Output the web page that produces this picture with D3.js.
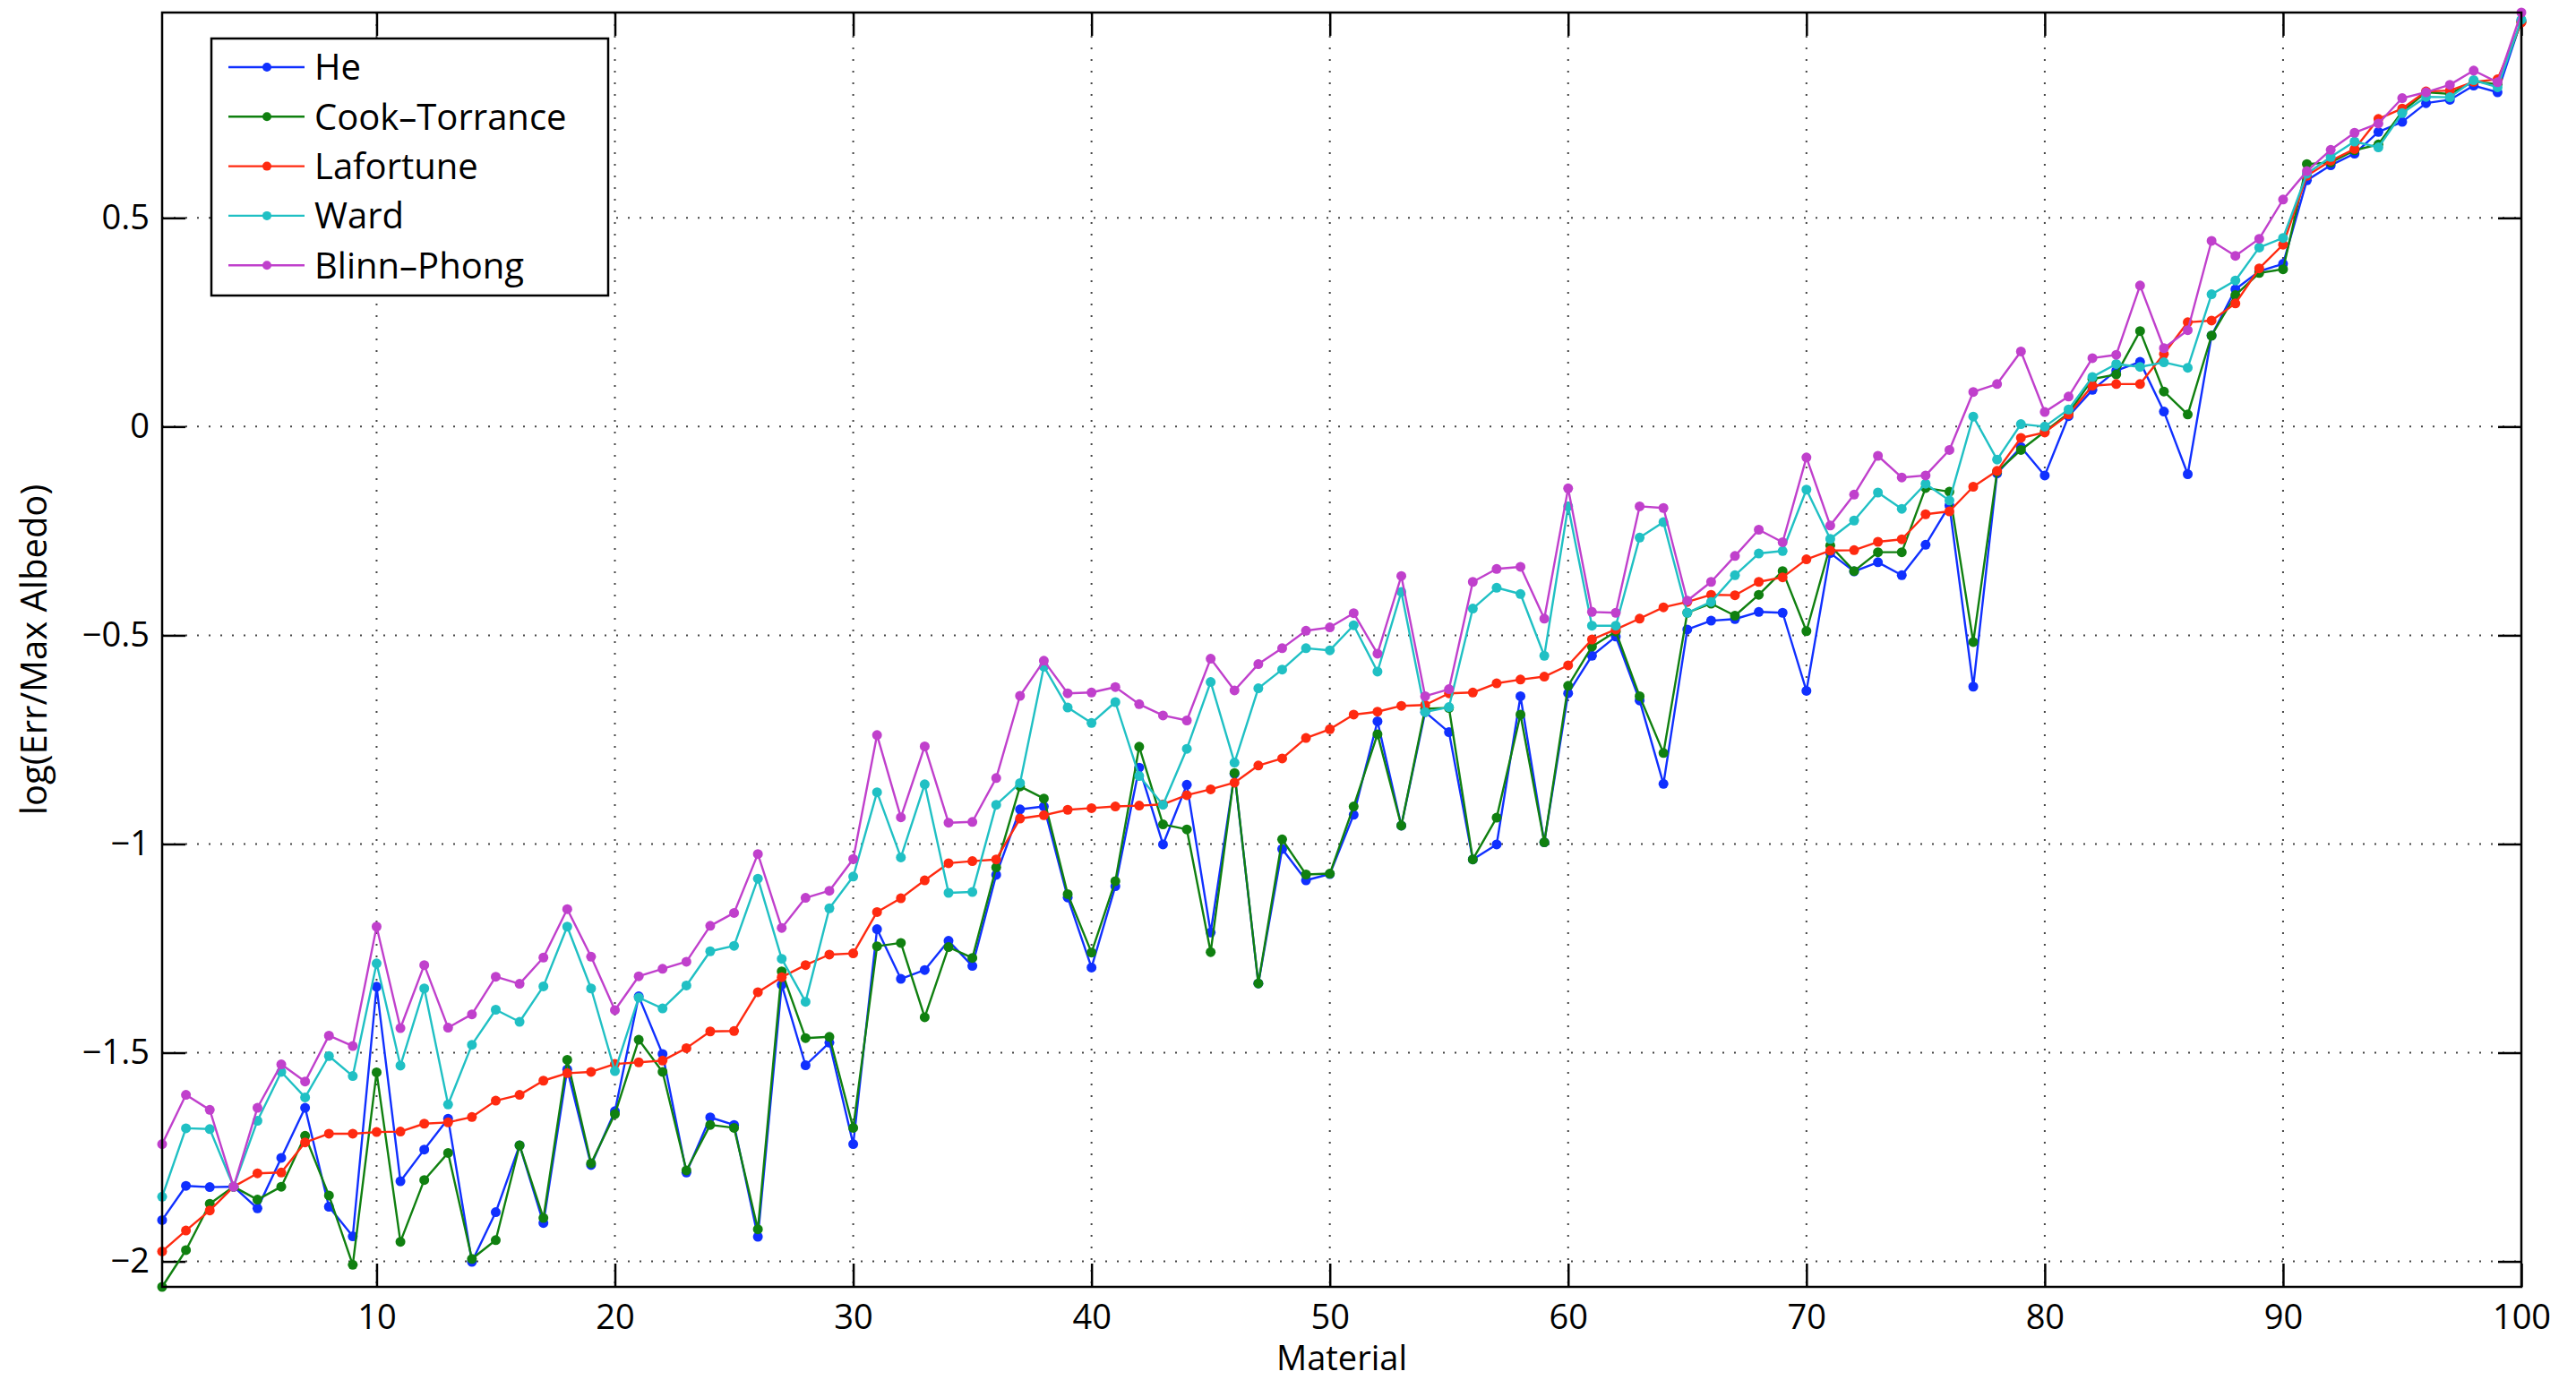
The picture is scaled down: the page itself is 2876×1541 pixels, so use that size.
<!DOCTYPE html>
<html lang="en">
<head>
  <meta charset="UTF-8" />
  <title>log(Err/Max Albedo) per material</title>
  <style>
    body { margin: 0; background: #fff; }
    svg { display: block; font-family: "Open Sans", sans-serif; }
  </style>
</head>
<body>
  <svg id="chart"></svg>

  <script src="https://d3js.org/d3.v7.min.js"></script>
  <script>
    // values, material 1..100
    const heVals = [
      -1.901, -1.819, -1.822, -1.821, -1.873, -1.752, -1.632, -1.869, -1.940, -1.342,
      -1.808, -1.732, -1.658, -2.001, -1.882, -1.722, -1.908, -1.540, -1.769, -1.640,
      -1.365, -1.503, -1.787, -1.655, -1.673, -1.941, -1.337, -1.530, -1.476, -1.719,
      -1.204, -1.323, -1.302, -1.232, -1.292, -1.074, -0.917, -0.910, -1.128, -1.296,
      -1.101, -0.817, -1.001, -0.858, -1.212, -0.832, -1.334, -1.012, -1.087, -1.072,
      -0.930, -0.706, -0.956, -0.684, -0.732, -1.037, -1.001, -0.646, -0.996, -0.639,
      -0.549, -0.503, -0.656, -0.856, -0.486, -0.465, -0.461, -0.444, -0.446, -0.633,
      -0.303, -0.347, -0.325, -0.356, -0.283, -0.189, -0.623, -0.112, -0.049, -0.117,
      0.025, 0.088, 0.134, 0.155, 0.036, -0.114, 0.218, 0.329, 0.372, 0.390,
      0.590, 0.626, 0.654, 0.706, 0.730, 0.775, 0.783, 0.817, 0.801, 0.973
    ];
    const cookVals = [
      -2.061, -1.973, -1.862, -1.821, -1.852, -1.821, -1.699, -1.842, -2.008, -1.547,
      -1.953, -1.805, -1.740, -1.994, -1.949, -1.722, -1.896, -1.517, -1.765, -1.647,
      -1.469, -1.546, -1.782, -1.673, -1.680, -1.923, -1.305, -1.465, -1.462, -1.680,
      -1.245, -1.237, -1.415, -1.247, -1.273, -1.056, -0.862, -0.891, -1.120, -1.260,
      -1.089, -0.767, -0.953, -0.965, -1.259, -0.830, -1.334, -0.989, -1.073, -1.071,
      -0.910, -0.737, -0.956, -0.676, -0.674, -1.037, -0.937, -0.690, -0.996, -0.621,
      -0.527, -0.491, -0.646, -0.782, -0.446, -0.424, -0.453, -0.403, -0.346, -0.490,
      -0.285, -0.346, -0.301, -0.301, -0.147, -0.156, -0.516, -0.108, -0.056, -0.012,
      0.032, 0.114, 0.125, 0.229, 0.084, 0.029, 0.218, 0.315, 0.368, 0.377,
      0.629, 0.633, 0.662, 0.676, 0.755, 0.801, 0.797, 0.827, 0.820, 0.970
    ];
    const lafortuneVals = [
      -1.976, -1.926, -1.878, -1.821, -1.789, -1.787, -1.715, -1.694, -1.694, -1.690,
      -1.689, -1.670, -1.667, -1.654, -1.615, -1.601, -1.567, -1.549, -1.546, -1.527,
      -1.523, -1.519, -1.489, -1.449, -1.448, -1.355, -1.319, -1.290, -1.265, -1.262,
      -1.163, -1.130, -1.087, -1.046, -1.041, -1.037, -0.939, -0.931, -0.918, -0.914,
      -0.910, -0.908, -0.905, -0.883, -0.869, -0.853, -0.812, -0.795, -0.746, -0.725,
      -0.690, -0.683, -0.669, -0.667, -0.639, -0.637, -0.615, -0.606, -0.599, -0.572,
      -0.510, -0.486, -0.460, -0.433, -0.420, -0.403, -0.404, -0.372, -0.361, -0.318,
      -0.297, -0.296, -0.276, -0.270, -0.210, -0.203, -0.144, -0.106, -0.027, -0.014,
      0.029, 0.098, 0.102, 0.102, 0.174, 0.250, 0.254, 0.295, 0.379, 0.436,
      0.601, 0.637, 0.665, 0.737, 0.762, 0.803, 0.805, 0.826, 0.832, 0.968
    ];
    const wardVals = [
      -1.845, -1.681, -1.683, -1.821, -1.663, -1.546, -1.607, -1.508, -1.556, -1.286,
      -1.531, -1.346, -1.624, -1.481, -1.397, -1.426, -1.341, -1.198, -1.346, -1.544,
      -1.368, -1.394, -1.339, -1.257, -1.244, -1.083, -1.275, -1.378, -1.154, -1.078,
      -0.876, -1.032, -0.857, -1.117, -1.115, -0.906, -0.854, -0.575, -0.673, -0.710,
      -0.660, -0.837, -0.906, -0.772, -0.612, -0.805, -0.627, -0.582, -0.531, -0.536,
      -0.476, -0.587, -0.396, -0.684, -0.672, -0.436, -0.386, -0.401, -0.549, -0.191,
      -0.477, -0.477, -0.266, -0.229, -0.446, -0.420, -0.356, -0.304, -0.298, -0.151,
      -0.269, -0.225, -0.158, -0.197, -0.137, -0.177, 0.024, -0.079, 0.006, 0.000,
      0.041, 0.119, 0.150, 0.143, 0.154, 0.141, 0.317, 0.350, 0.429, 0.452,
      0.606, 0.646, 0.683, 0.669, 0.751, 0.790, 0.789, 0.830, 0.813, 0.975
    ];
    const blinnVals = [
      -1.719, -1.601, -1.637, -1.821, -1.632, -1.528, -1.569, -1.459, -1.484, -1.198,
      -1.441, -1.290, -1.440, -1.408, -1.318, -1.335, -1.272, -1.156, -1.270, -1.398,
      -1.317, -1.299, -1.282, -1.196, -1.165, -1.024, -1.201, -1.129, -1.112, -1.036,
      -0.739, -0.936, -0.766, -0.949, -0.947, -0.842, -0.645, -0.561, -0.639, -0.637,
      -0.624, -0.665, -0.692, -0.704, -0.556, -0.632, -0.569, -0.531, -0.489, -0.481,
      -0.447, -0.544, -0.358, -0.646, -0.629, -0.372, -0.341, -0.336, -0.460, -0.148,
      -0.444, -0.446, -0.191, -0.195, -0.417, -0.372, -0.310, -0.247, -0.277, -0.074,
      -0.237, -0.163, -0.070, -0.122, -0.117, -0.056, 0.083, 0.102, 0.180, 0.035,
      0.072, 0.164, 0.172, 0.338, 0.188, 0.231, 0.445, 0.409, 0.450, 0.544,
      0.612, 0.663, 0.704, 0.726, 0.787, 0.801, 0.819, 0.853, 0.825, 0.992
    ];

    const seriesNames = ["He", "Cook\u2013Torrance", "Lafortune", "Ward", "Blinn\u2013Phong"];
    const seriesColors = ["#1030ff", "#108010", "#ff2a10", "#20c0c4", "#c040cc"];
    const xTicks = [10, 20, 30, 40, 50, 60, 70, 80, 90, 100];
    const yTicks = [-2, -1.5, -1, -0.5, 0, 0.5];

    const allSeries = [heVals, cookVals, lafortuneVals, wardVals, blinnVals];

    const W = 2876, H = 1541;
    const margin = {top: 14, right: 61, bottom: 104, left: 181};
    const width = W - margin.left - margin.right;
    const height = H - margin.top - margin.bottom;

    const root = d3.select("#chart").attr("width", W).attr("height", H);
    root.append("rect").attr("width", W).attr("height", H).attr("fill", "#fff");

    const svg = root.append("g").attr("transform", `translate(${margin.left},${margin.top})`);

    const x = d3.scaleLinear().domain([1, 100]).range([0, width]);
    // tight axis like matlab
    const y = d3.scaleLinear().domain(d3.extent(allSeries.flat())).range([height, 0]);

    // dotted grid
    const grid = svg.append("g").attr("stroke", "#444").attr("stroke-width", 2)
      .attr("stroke-dasharray", "2,11");
    grid.selectAll(".gx").data(xTicks.filter(d => d < 100)).join("line")
      .attr("x1", d => x(d)).attr("x2", d => x(d)).attr("y1", 0).attr("y2", height);
    grid.selectAll(".gy").data(yTicks).join("line")
      .attr("x1", 0).attr("x2", width).attr("y1", d => y(d)).attr("y2", d => y(d));

    const fmt = d3.format("~g");
    const tickLen = 26;

    const styleAxis = g => {
      g.select(".domain").remove();
      g.selectAll(".tick line").attr("stroke", "#000").attr("stroke-width", 2.5);
      g.selectAll(".tick text").attr("fill", "#000").attr("font-size", 38)
        .attr("font-family", "'Open Sans', sans-serif");
    };

    svg.append("g").attr("transform", `translate(0,${height})`)
      .call(d3.axisBottom(x).tickValues(xTicks).tickFormat(fmt)
        .tickSizeInner(-tickLen).tickSizeOuter(0).tickPadding(20))
      .call(styleAxis);
    svg.append("g")
      .call(d3.axisTop(x).tickValues(xTicks).tickFormat("")
        .tickSizeInner(-tickLen).tickSizeOuter(0))
      .call(styleAxis);
    svg.append("g")
      .call(d3.axisLeft(y).tickValues(yTicks).tickFormat(fmt)
        .tickSizeInner(-tickLen).tickSizeOuter(0).tickPadding(14))
      .call(styleAxis);
    svg.append("g").attr("transform", `translate(${width},0)`)
      .call(d3.axisRight(y).tickValues(yTicks).tickFormat("")
        .tickSizeInner(-tickLen).tickSizeOuter(0))
      .call(styleAxis);

    // series, drawn in legend order so later ones sit on top
    const line = d3.line().x((d, i) => x(i + 1)).y(d => y(d));
    allSeries.forEach((vals, k) => {
      const g = svg.append("g");
      g.append("path").datum(vals)
        .attr("fill", "none")
        .attr("stroke", seriesColors[k])
        .attr("stroke-width", 2.4)
        .attr("stroke-linejoin", "round")
        .attr("d", line);
      g.selectAll("circle").data(vals).join("circle")
        .attr("cx", (d, i) => x(i + 1))
        .attr("cy", d => y(d))
        .attr("r", 5.5)
        .attr("fill", seriesColors[k]);
    });

    // frame
    svg.append("rect").attr("width", width).attr("height", height)
      .attr("fill", "none").attr("stroke", "#000").attr("stroke-width", 2.5);

    // legend
    const legend = root.append("g").attr("transform", "translate(236,43)");
    legend.append("rect").attr("width", 443).attr("height", 287)
      .attr("fill", "#fff").attr("stroke", "#000").attr("stroke-width", 2.5);
    seriesNames.forEach((name, k) => {
      const ly = 32 + k * 55.3;
      legend.append("line").attr("x1", 19).attr("x2", 104).attr("y1", ly).attr("y2", ly)
        .attr("stroke", seriesColors[k]).attr("stroke-width", 2.4);
      legend.append("circle").attr("cx", 62).attr("cy", ly).attr("r", 5)
        .attr("fill", seriesColors[k]);
      legend.append("text").attr("x", 115).attr("y", ly).attr("dy", "0.36em")
        .attr("font-size", 40).attr("fill", "#000").text(name);
    });

    // axis labels
    root.append("text")
      .attr("x", margin.left + width / 2).attr("y", 1530)
      .attr("text-anchor", "middle").attr("font-size", 38).attr("fill", "#000")
      .text("Material");
    root.append("text")
      .attr("transform", `translate(52,${margin.top + height / 2}) rotate(-90)`)
      .attr("text-anchor", "middle").attr("font-size", 40).attr("fill", "#000")
      .text("log(Err/Max Albedo)");
  </script>
</body>
</html>
